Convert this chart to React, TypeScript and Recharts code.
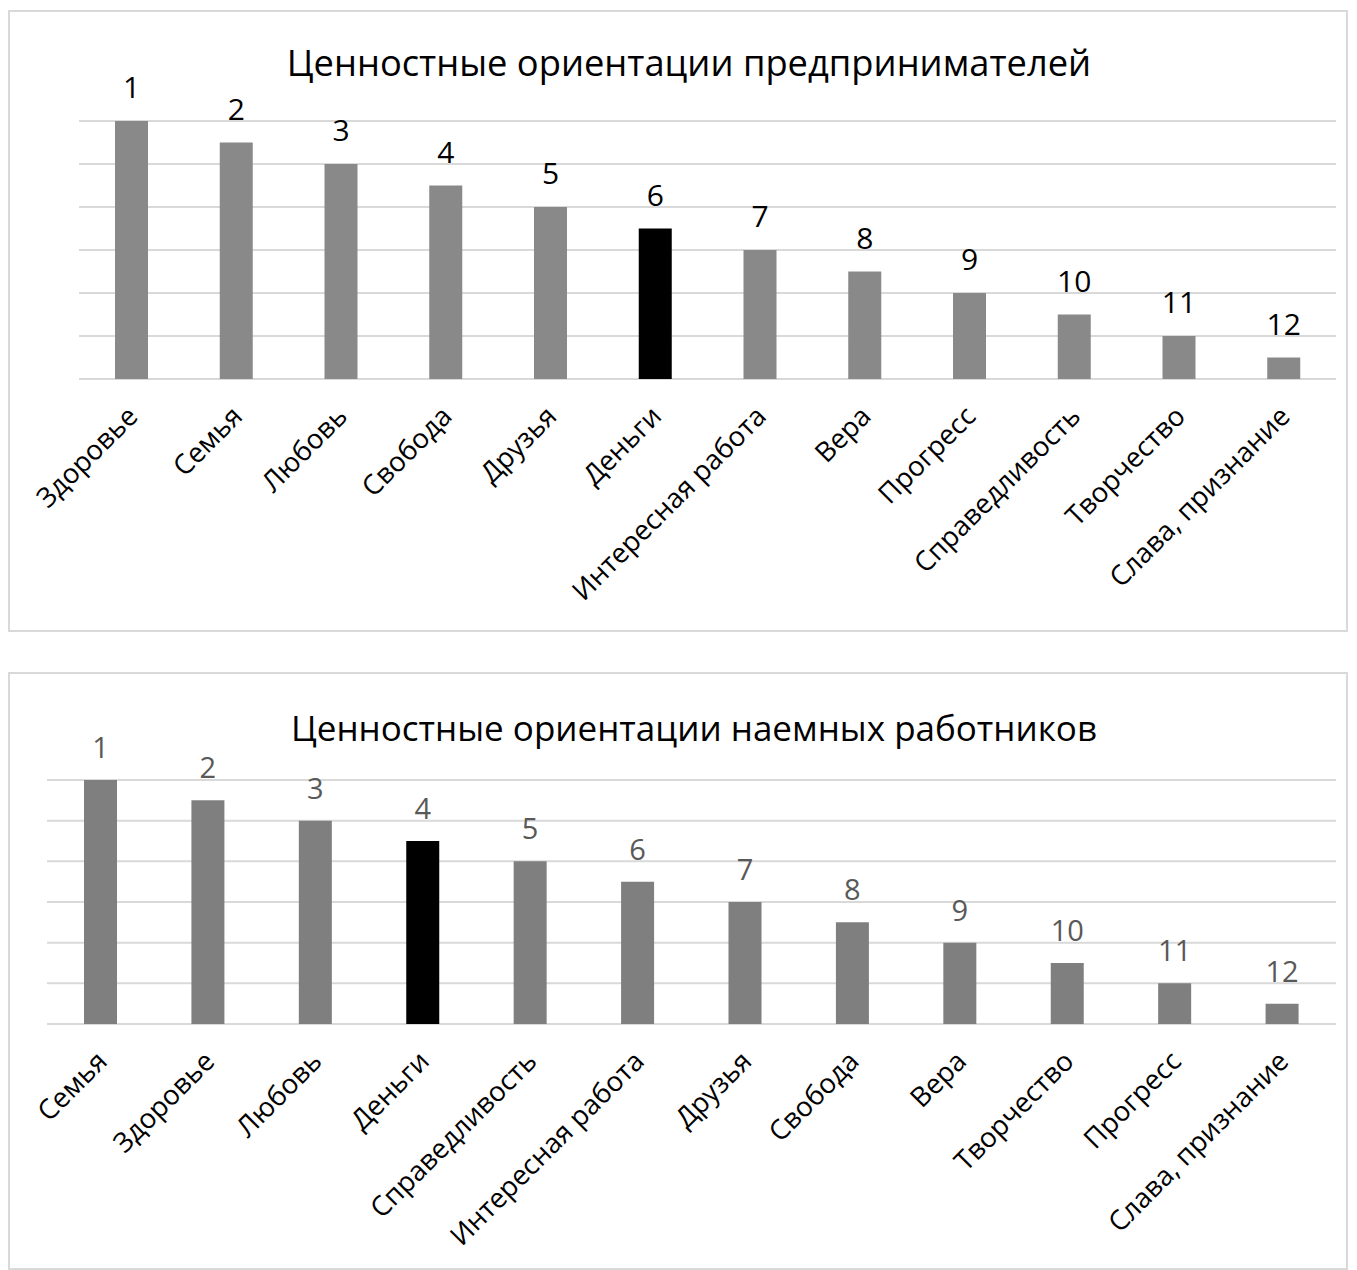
import React from 'react';
import { BarChart, Bar, XAxis, YAxis, CartesianGrid, Cell, LabelList } from 'recharts';

// ---- Data ----
const categories1 = ['Здоровье', 'Семья', 'Любовь', 'Свобода', 'Друзья', 'Деньги', 'Интересная работа', 'Вера', 'Прогресс', 'Справедливость', 'Творчество', 'Слава, признание'];
const values1 = [12, 11, 10, 9, 8, 7, 6, 5, 4, 3, 2, 1];
const ranks1 = [1, 2, 3, 4, 5, 6, 7, 8, 9, 10, 11, 12];
const title1 = 'Ценностные ориентации предпринимателей';

const categories2 = ['Семья', 'Здоровье', 'Любовь', 'Деньги', 'Справедливость', 'Интересная работа', 'Друзья', 'Свобода', 'Вера', 'Творчество', 'Прогресс', 'Слава, признание'];
const values2 = [12, 11, 10, 9, 8, 7, 6, 5, 4, 3, 2, 1];
const ranks2 = [1, 2, 3, 4, 5, 6, 7, 8, 9, 10, 11, 12];
const title2 = 'Ценностные ориентации наемных работников';

const highlighted = 'Деньги';
const yTicks = [0, 2, 4, 6, 8, 10, 12];

const FONT = '"Open Sans", "Noto Sans", sans-serif';

const build = (cats: string[], vals: number[], ranks: number[]) =>
  cats.map((c, i) => ({ name: c, value: vals[i], rank: ranks[i] }));

const data1 = build(categories1, values1, ranks1);
const data2 = build(categories2, values2, ranks2);

const makeTick = (fontSize: number, dx: number, dy: number) => (props: any) => {
  const { x, y, payload } = props;
  const tx = x + dx;
  const ty = y + dy;
  return (
    <text
      x={tx}
      y={ty}
      textAnchor="end"
      fill="#000000"
      fontSize={fontSize}
      fontFamily={FONT}
      transform={`rotate(-45, ${tx}, ${ty})`}
    >
      {payload.value}
    </text>
  );
};

interface PanelProps {
  data: any[];
  title: string;
  titleSize: number;
  top: number;
  boxHeight: number;
  margin: { top: number; right: number; left: number; bottom: number };
  xAxisHeight: number;
  barColor: string;
  labelColor: string;
  labelSize: number;
  labelOffset: number;
  titleTop: number;
  titleShift: number;
}

const Panel = (p: PanelProps) => {
  const innerW = 1336;
  const innerH = p.boxHeight - 4;
  return (
    <div
      style={{
        position: 'absolute',
        left: 0,
        top: p.top,
        width: 1340,
        height: p.boxHeight,
        boxSizing: 'border-box',
        border: '2px solid #d9d9d9',
        background: '#ffffff',
      }}
    >
      <div
        style={{
          position: 'absolute',
          left: p.titleShift,
          top: p.titleTop,
          width: innerW,
          textAlign: 'center',
          fontFamily: FONT,
          fontSize: p.titleSize,
          lineHeight: '40px',
          color: '#000000',
          whiteSpace: 'nowrap',
        }}
      >
        {p.title}
      </div>
      <BarChart width={innerW} height={innerH} data={p.data} margin={p.margin} barCategoryGap={0}>
        <CartesianGrid vertical={false} stroke="#d9d9d9" strokeWidth={2} />
        <XAxis
          dataKey="name"
          axisLine={false}
          tickLine={false}
          interval={0}
          height={p.xAxisHeight}
          tick={makeTick(27.5, 8, 31)}
        />
        <YAxis hide domain={[0, 12]} ticks={yTicks} />
        <Bar dataKey="value" barSize={33} isAnimationActive={false}>
          {p.data.map((d: any, i: number) => (
            <Cell key={i} fill={d.name === highlighted ? '#000000' : p.barColor} />
          ))}
          <LabelList
            dataKey="rank"
            position="top"
            offset={p.labelOffset}
            fill={p.labelColor}
            fontSize={p.labelSize}
            fontFamily={FONT}
          />
        </Bar>
      </BarChart>
    </div>
  );
};

export default function App() {
  return (
    <div style={{ position: 'relative', width: 1341, height: 1262 }}>
      <Panel
        data={data1}
        title={title1}
        titleSize={36.3}
        top={2}
        boxHeight={622}
        margin={{ top: 109, right: 10, left: 69, bottom: 0 }}
        xAxisHeight={251}
        barColor="#898989"
        labelColor="#000000"
        labelSize={30}
        labelOffset={23}
        titleTop={30}
        titleShift={11}
      />
      <Panel
        data={data2}
        title={title2}
        titleSize={35}
        top={664}
        boxHeight={598}
        margin={{ top: 106, right: 10, left: 37, bottom: 0 }}
        xAxisHeight={244}
        barColor="#7f7f7f"
        labelColor="#595959"
        labelSize={29}
        labelOffset={22}
        titleTop={34}
        titleShift={16}
      />
    </div>
  );
}
